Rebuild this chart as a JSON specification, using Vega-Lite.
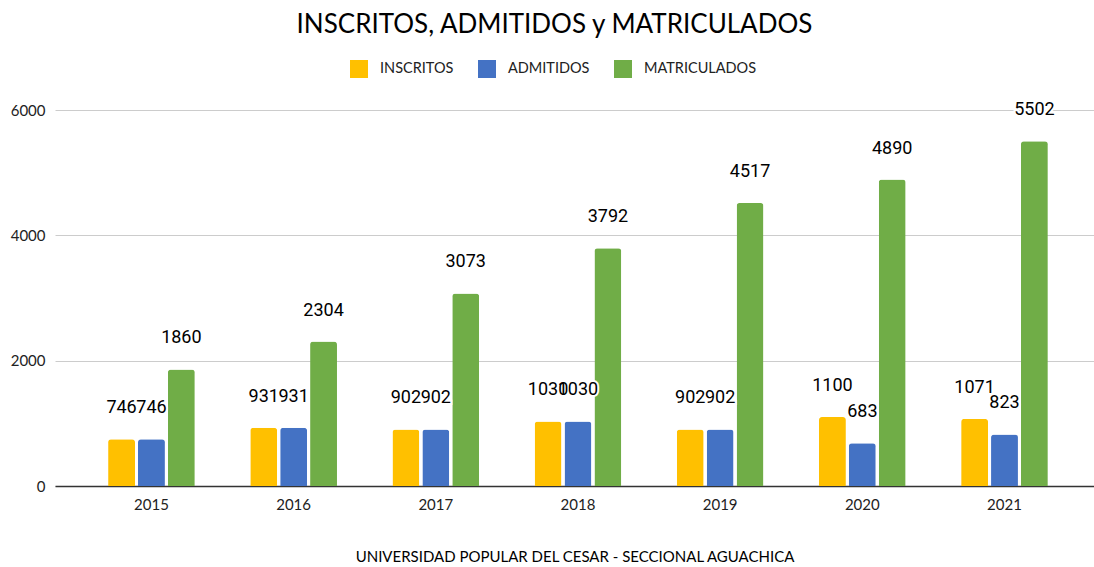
{
  "$schema": "https://vega.github.io/schema/vega-lite/v6.json",
  "autosize": "none",
  "width": 1039,
  "height": 376,
  "padding": {"left": 55, "top": 110, "right": 0, "bottom": 81},
  "background": "white",
  "title": {
    "text": "INSCRITOS, ADMITIDOS y  MATRICULADOS",
    "font": "Lato",
    "fontSize": 26,
    "fontWeight": "normal",
    "color": "#000000",
    "anchor": "middle",
    "frame": "group",
    "baseline": "middle",
    "offset": 0,
    "dx": -20,
    "dy": -9
  },
  "config": {
    "view": {"stroke": null},
    "axis": {"labelFont": "Lato", "titleFont": "Lato"}
  },
  "data": {
    "values": [
      {"year": "2015", "serie": "INSCRITOS", "value": 746},
      {"year": "2015", "serie": "ADMITIDOS", "value": 746},
      {"year": "2015", "serie": "MATRICULADOS", "value": 1860},
      {"year": "2016", "serie": "INSCRITOS", "value": 931},
      {"year": "2016", "serie": "ADMITIDOS", "value": 931},
      {"year": "2016", "serie": "MATRICULADOS", "value": 2304},
      {"year": "2017", "serie": "INSCRITOS", "value": 902},
      {"year": "2017", "serie": "ADMITIDOS", "value": 902},
      {"year": "2017", "serie": "MATRICULADOS", "value": 3073},
      {"year": "2018", "serie": "INSCRITOS", "value": 1030},
      {"year": "2018", "serie": "ADMITIDOS", "value": 1030},
      {"year": "2018", "serie": "MATRICULADOS", "value": 3792},
      {"year": "2019", "serie": "INSCRITOS", "value": 902},
      {"year": "2019", "serie": "ADMITIDOS", "value": 902},
      {"year": "2019", "serie": "MATRICULADOS", "value": 4517},
      {"year": "2020", "serie": "INSCRITOS", "value": 1100},
      {"year": "2020", "serie": "ADMITIDOS", "value": 683},
      {"year": "2020", "serie": "MATRICULADOS", "value": 4890},
      {"year": "2021", "serie": "INSCRITOS", "value": 1071},
      {"year": "2021", "serie": "ADMITIDOS", "value": 823},
      {"year": "2021", "serie": "MATRICULADOS", "value": 5502}
    ]
  },
  "encoding": {
    "x": {
      "field": "year",
      "type": "nominal",
      "scale": {"paddingInner": 0.39, "paddingOuter": 0.349, "align": 0.535},
      "axis": {
        "title": "UNIVERSIDAD POPULAR DEL CESAR - SECCIONAL AGUACHICA",
        "titleFontSize": 15,
        "titleFontWeight": "normal",
        "titleColor": "#000000",
        "titlePadding": 37,
        "labelAngle": 0,
        "labelFontSize": 15,
        "labelColor": "#222222",
        "labelPadding": 11,
        "ticks": false,
        "domainColor": "#333333",
        "domainWidth": 1.5,
        "grid": false
      }
    },
    "xOffset": {
      "field": "serie",
      "type": "nominal",
      "sort": ["INSCRITOS", "ADMITIDOS", "MATRICULADOS"],
      "scale": {"paddingInner": 0.1, "paddingOuter": 0}
    },
    "y": {
      "field": "value",
      "type": "quantitative",
      "scale": {"domain": [0, 6000], "nice": false},
      "axis": {
        "title": null,
        "values": [0, 2000, 4000, 6000],
        "format": "d",
        "labelFontSize": 15,
        "labelColor": "#222222",
        "labelPadding": 10,
        "ticks": false,
        "domain": false,
        "gridColor": "#cccccc",
        "gridWidth": 1
      }
    }
  },
  "layer": [
    {
      "mark": {"type": "bar", "cornerRadiusTopLeft": 3, "cornerRadiusTopRight": 3},
      "encoding": {
        "color": {
          "field": "serie",
          "type": "nominal",
          "sort": ["INSCRITOS", "ADMITIDOS", "MATRICULADOS"],
          "scale": {
            "domain": ["INSCRITOS", "ADMITIDOS", "MATRICULADOS"],
            "range": ["#FFC000", "#4472C4", "#70AD47"]
          },
          "legend": {
            "title": null,
            "orient": "none",
            "direction": "horizontal",
            "legendX": 295,
            "legendY": -50,
            "symbolType": "square",
            "symbolSize": 324,
            "symbolStrokeWidth": 0,
            "symbolOpacity": 1,
            "labelFont": "Lato",
            "labelFontSize": 14.5,
            "labelColor": "#222222",
            "labelOffset": 12,
            "columnPadding": 24
          }
        }
      }
    },
    {
      "mark": {
        "type": "text",
        "font": "Roboto",
        "fontSize": 18,
        "baseline": "middle",
        "dy": -31,
        "stroke": "white",
        "strokeWidth": 4,
        "fill": "white"
      },
      "encoding": {"text": {"field": "value", "type": "quantitative", "format": "d"}}
    },
    {
      "mark": {
        "type": "text",
        "font": "Roboto",
        "fontSize": 18,
        "baseline": "middle",
        "dy": -31,
        "fill": "#000000"
      },
      "encoding": {"text": {"field": "value", "type": "quantitative", "format": "d"}}
    }
  ]
}
